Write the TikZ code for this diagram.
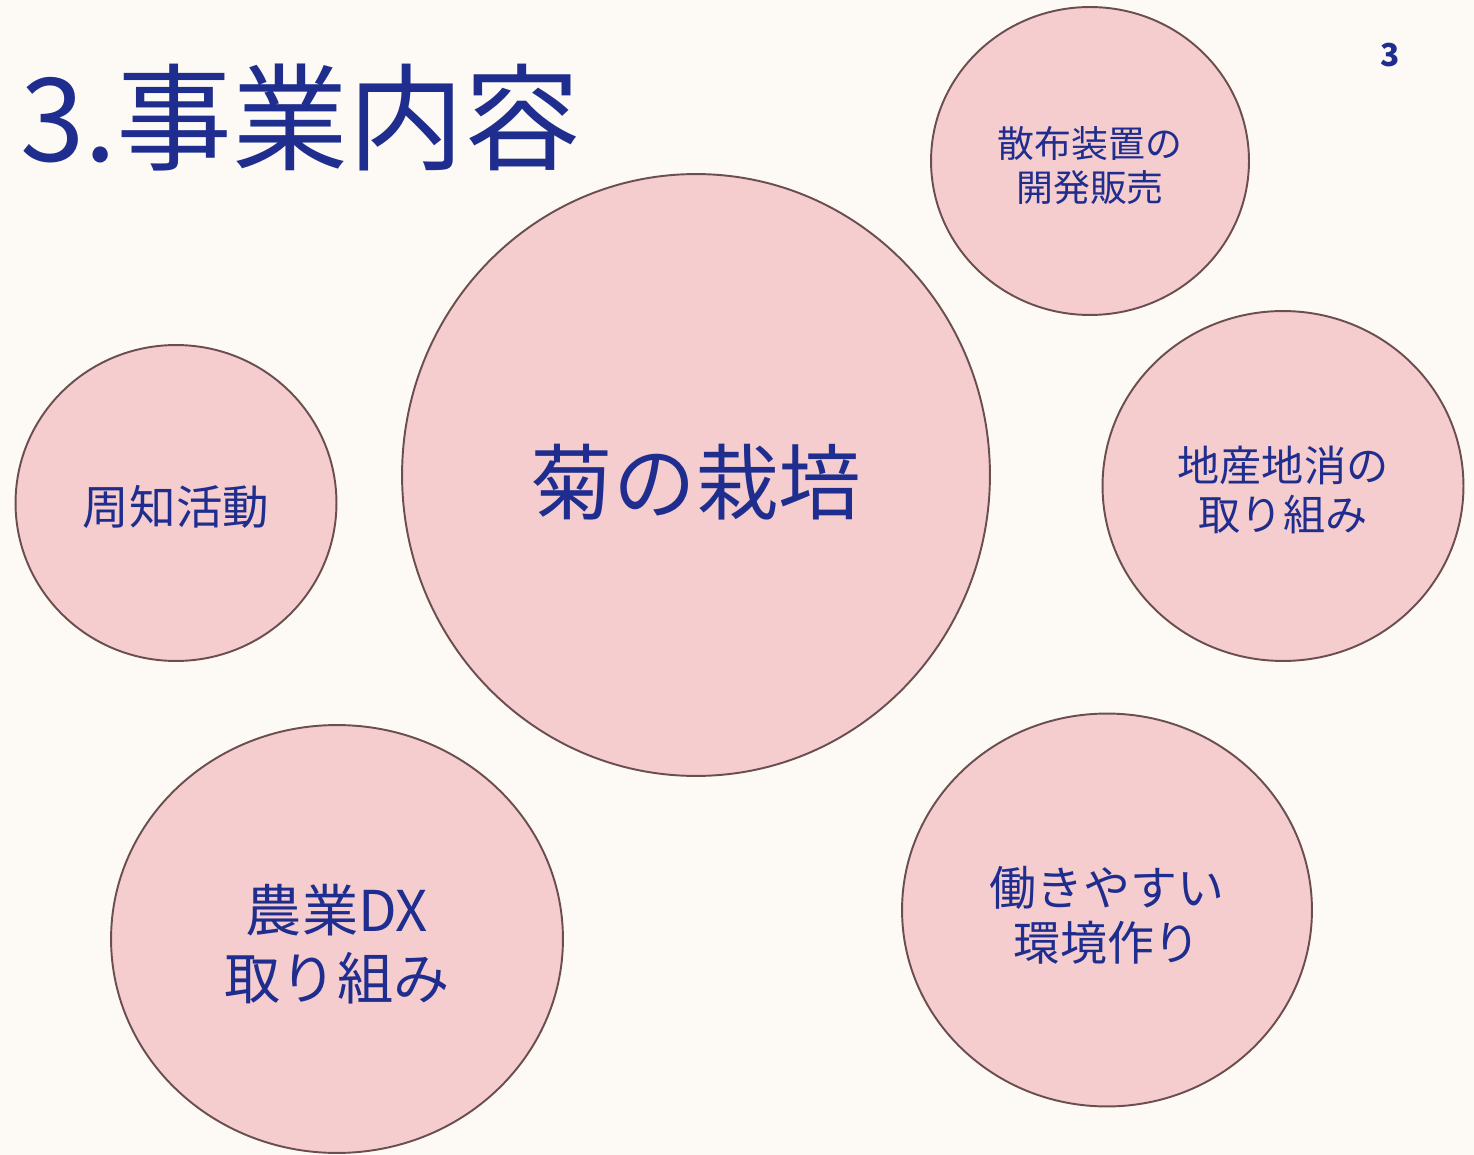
\documentclass[tikz,border=0pt]{standalone}
\usepackage{fontspec}
\setmainfont{Noto Sans CJK JP}
\usepackage{xcolor}
\usepackage{tikz}
\usetikzlibrary{shapes.geometric}

\definecolor{bgcream}{HTML}{FDF9F4}
\definecolor{bubblepink}{HTML}{F5CDCE}
\definecolor{bubbleedge}{HTML}{6B4F50}
\definecolor{navytext}{HTML}{1F2E8E}

\begin{document}
\begin{tikzpicture}[x=0.02cm, y=-0.02cm,
  bubble/.style={ellipse, draw=bubbleedge, fill=bubblepink, line width=1.1pt,
    inner sep=0pt},
  bubbletext/.style={inner sep=0pt, align=center, text=navytext}]
\fill[bgcream] (0,0) rectangle (1474,1155);
\useasboundingbox (0,0) rectangle (1474,1155);
% title and page number
\node[anchor=base west, inner sep=0pt, text=navytext,
  font={\fontsize{66}{66}\selectfont}] (title) at (20,162) {3.事業内容};
\node[text=navytext, inner sep=0pt, font={\fontsize{18}{18}\selectfont\bfseries}] (pagenum) at (1390,55) {3};
% bubbles
\node[bubble, minimum width=11.76cm, minimum height=12.04cm] (kiku) at (696,475) {};
\node[bubble, minimum width=6.36cm, minimum height=6.16cm] (sanpu) at (1090,161) {};
\node[bubble, minimum width=7.22cm, minimum height=7.0cm] (chisan) at (1283,486) {};
\node[bubble, minimum width=6.42cm, minimum height=6.32cm] (shuchi) at (176,503) {};
\node[bubble, minimum width=9.04cm, minimum height=8.56cm] (nogyo) at (337,939) {};
\node[bubble, minimum width=8.2cm, minimum height=7.86cm] (kankyo) at (1107,910) {};
% texts
\node[bubbletext, font={\fontsize{47}{52}\selectfont}] (kikutext)
  at ([yshift=-4pt]kiku.center) {菊の栽培};
\node[bubbletext, font={\fontsize{21}{25}\selectfont}] (sanputext)
  at ([yshift=-2.5pt]sanpu.center) {散布装置の\\開発販売};
\node[bubbletext, font={\fontsize{24}{28}\selectfont}] (chisantext)
  at ([yshift=-2.5pt]chisan.center) {地産地消の\\取り組み};
\node[bubbletext, font={\fontsize{26.5}{30}\selectfont}] (shuchitext)
  at ([yshift=-2.5pt]shuchi.center) {周知活動};
\node[bubbletext, font={\fontsize{32}{38.5}\selectfont}] (nogyotext)
  at ([yshift=-3pt]nogyo.center) {農業DX\\取り組み};
\node[bubbletext, font={\fontsize{26.7}{31}\selectfont}] (kankyotext)
  at ([yshift=-3pt]kankyo.center) {働きやすい\\環境作り};
\end{tikzpicture}
\end{document}
